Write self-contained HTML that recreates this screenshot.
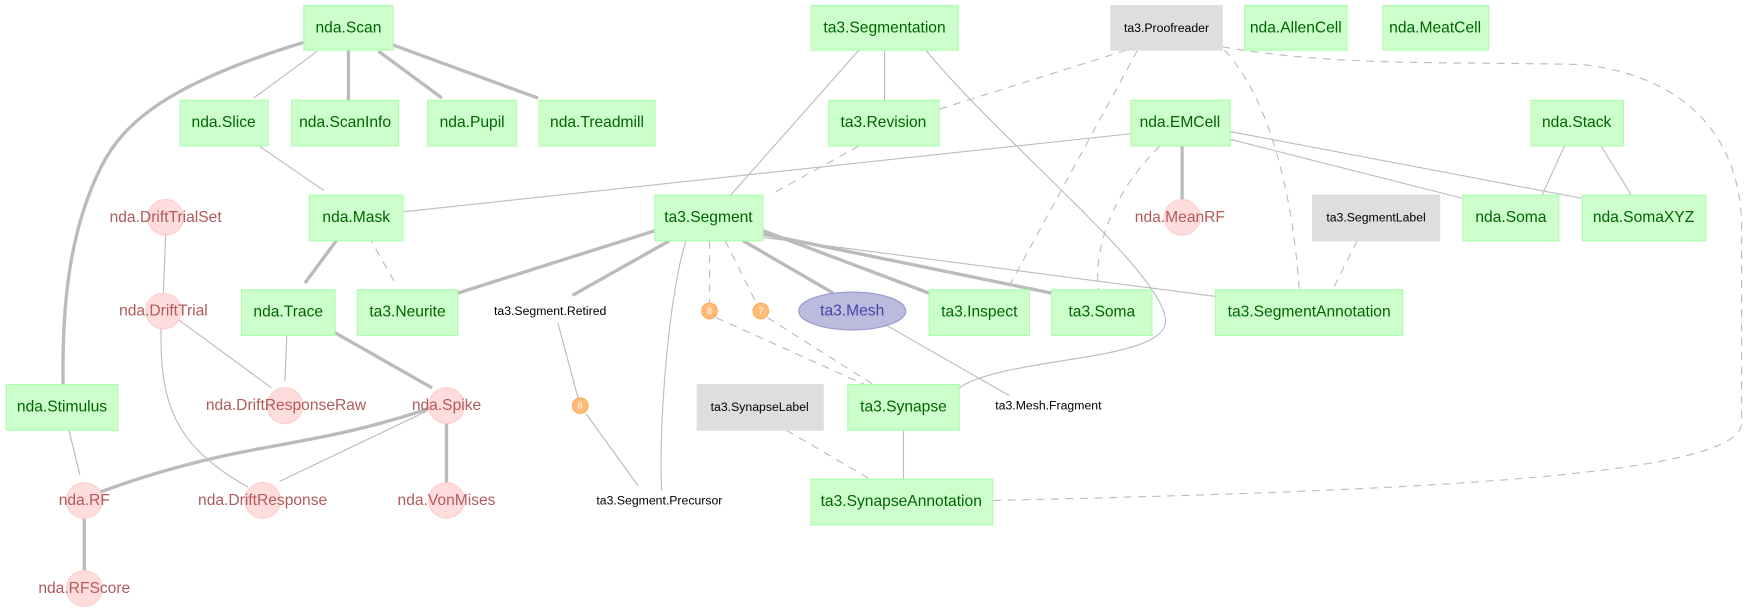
<!DOCTYPE html>
<html><head><meta charset="utf-8"><style>
html,body{margin:0;padding:0;background:#fff;}
svg{display:block}
.b{fill:#ccffcc;stroke:#aaffaa;stroke-width:1}
.g{fill:#dedede;stroke:#dedede}
.bt{font-family:"Liberation Sans",sans-serif;font-size:14px;fill:#006400;text-anchor:middle;dominant-baseline:central}
.gt{font-family:"Liberation Sans",sans-serif;font-size:11px;fill:#000;text-anchor:middle;dominant-baseline:central}
.c{fill:#ffdddd;stroke:#ffcccc}
.ct{font-family:"Liberation Sans",sans-serif;font-size:14px;fill:#b05a5a;text-anchor:middle;dominant-baseline:central}
.o{fill:#ffbb77;stroke:#ffaa55}
.ot{font-family:"Liberation Sans",sans-serif;font-size:8px;fill:#fff;text-anchor:middle;dominant-baseline:central}
.t1{stroke:#bbb;stroke-width:1;fill:none}
.t3{stroke:#bbb;stroke-width:3;fill:none}
.d{stroke:#bbb;stroke-width:1;fill:none;stroke-dasharray:7,6}
</style></head><body>
<svg width="1749" height="613" viewBox="0 0 1568 550" xmlns="http://www.w3.org/2000/svg">
<!-- edges -->
<path class="t3" d="M272,38 C150,75 110,110 90,150 C60,210 55,280 56,345"/>
<path class="t1" d="M284,46 L227,88"/>
<path class="t3" d="M312,45 L312,90"/>
<path class="t3" d="M339,46 L396,88"/>
<path class="t3" d="M351,40 L482,88"/>
<path class="t1" d="M229,129 L290,171"/>
<path class="t3" d="M304,212 L273,254"/>
<path class="d" d="M330,212 L354,254"/>
<path class="t1" d="M1014,120 L361,190"/>
<path class="t3" d="M587,207 L410,263"/>
<path class="t3" d="M600,216 L513,265"/>
<path class="t1" d="M257,294 L255,342"/>
<path class="t3" d="M292,294 L387,348"/>
<path class="t1" d="M148,211 L146,263"/>
<path class="t1" d="M157,285 L243,348"/>
<path class="t1" d="M144,292 C142,360 155,400 222,437"/>
<path class="t1" d="M59,377 L71,426"/>
<path class="t3" d="M386,366 C330,385 290,392 230,403 C170,414 120,430 88,442"/>
<path class="t1" d="M382,369 L250,432"/>
<path class="t3" d="M400,380 L400,433"/>
<path class="t3" d="M75,465 L75,512"/>
<path class="t1" d="M500,290 L518,357"/>
<path class="t1" d="M525,371 L572,436"/>
<path class="t1" d="M615,216 C600,260 590,380 593,440"/>
<path class="d" d="M636,216 L636,272"/>
<path class="d" d="M650,216 L678,272"/>
<path class="d" d="M642,285 L775,345"/>
<path class="d" d="M688,285 L783,345"/>
<path class="t3" d="M666,216 L747,263"/>
<path class="t3" d="M684,207 L833,263"/>
<path class="t3" d="M684,210 L943,263"/>
<path class="t1" d="M684,213 L1090,266"/>
<path class="t1" d="M770,45 L655,175"/>
<path class="t1" d="M793,45 L793,90"/>
<path class="t1" d="M830,45 C900,130 1050,250 1045,290 C1040,325 900,320 860,348"/>
<path class="d" d="M770,131 L690,175"/>
<path class="d" d="M1010,45 L842,98"/>
<path class="d" d="M1020,45 L903,260"/>
<path class="d" d="M1040,131 C1000,170 980,220 985,260"/>
<path class="d" d="M1098,45 C1140,90 1160,180 1165,260"/>
<path class="d" d="M1096,42 C1200,60 1300,55 1420,58 C1520,70 1560,130 1562,200 L1562,380 C1560,425 1300,440 890,449"/>
<path class="t3" d="M1060,131 L1060,179"/>
<path class="t1" d="M1103,125 L1312,178"/>
<path class="t1" d="M1103,118 L1419,178"/>
<path class="t1" d="M1403,131 L1383,175"/>
<path class="t1" d="M1436,131 L1463,175"/>
<path class="d" d="M1217,216 L1195,260"/>
<path class="t1" d="M795,292 L905,355"/>
<path class="d" d="M705,386 L780,430"/>
<path class="t1" d="M810,386 L810,430"/>

<!-- boxes -->
<g>
<rect class="b" x="272" y="5" width="80" height="40"/><text class="bt" x="312" y="25">nda.Scan</text>
<rect class="b" x="727" y="5" width="132" height="40"/><text class="bt" x="793" y="25">ta3.Segmentation</text>
<rect class="g" x="996" y="5" width="100" height="40"/><text class="gt" x="1046" y="25">ta3.Proofreader</text>
<rect class="b" x="1116" y="5" width="92" height="40"/><text class="bt" x="1162" y="25">nda.AllenCell</text>
<rect class="b" x="1240" y="5" width="95" height="40"/><text class="bt" x="1287" y="25">nda.MeatCell</text>
<rect class="b" x="161" y="90" width="79" height="41"/><text class="bt" x="200" y="110">nda.Slice</text>
<rect class="b" x="261" y="90" width="96" height="41"/><text class="bt" x="309" y="110">nda.ScanInfo</text>
<rect class="b" x="383" y="90" width="80" height="41"/><text class="bt" x="423" y="110">nda.Pupil</text>
<rect class="b" x="483" y="90" width="104" height="41"/><text class="bt" x="535" y="110">nda.Treadmill</text>
<rect class="b" x="743" y="90" width="99" height="41"/><text class="bt" x="792" y="110">ta3.Revision</text>
<rect class="b" x="1014" y="90" width="89" height="41"/><text class="bt" x="1058" y="110">nda.EMCell</text>
<rect class="b" x="1373" y="90" width="83" height="41"/><text class="bt" x="1414" y="110">nda.Stack</text>
<rect class="b" x="277" y="175" width="84" height="41"/><text class="bt" x="319" y="195">nda.Mask</text>
<rect class="b" x="587" y="175" width="97" height="41"/><text class="bt" x="635" y="195">ta3.Segment</text>
<rect class="g" x="1177" y="175" width="114" height="41"/><text class="gt" x="1234" y="195">ta3.SegmentLabel</text>
<rect class="b" x="1312" y="175" width="86" height="41"/><text class="bt" x="1355" y="195">nda.Soma</text>
<rect class="b" x="1419" y="175" width="111" height="41"/><text class="bt" x="1474" y="195">nda.SomaXYZ</text>
<rect class="b" x="216" y="260" width="84" height="41"/><text class="bt" x="258" y="280">nda.Trace</text>
<rect class="b" x="320" y="260" width="90" height="41"/><text class="bt" x="365" y="280">ta3.Neurite</text>
<rect class="b" x="833" y="260" width="90" height="41"/><text class="bt" x="878" y="280">ta3.Inspect</text>
<rect class="b" x="943" y="260" width="90" height="41"/><text class="bt" x="988" y="280">ta3.Soma</text>
<rect class="b" x="1090" y="260" width="168" height="41"/><text class="bt" x="1174" y="280">ta3.SegmentAnnotation</text>
<rect class="b" x="5" y="345" width="100" height="41"/><text class="bt" x="55" y="365">nda.Stimulus</text>
<rect class="g" x="625" y="345" width="113" height="41"/><text class="gt" x="681" y="365">ta3.SynapseLabel</text>
<rect class="b" x="760" y="345" width="100" height="41"/><text class="bt" x="810" y="365">ta3.Synapse</text>
<rect class="b" x="727" y="430" width="163" height="41"/><text class="bt" x="808" y="450">ta3.SynapseAnnotation</text>
</g>
<!-- circles -->
<g>
<circle class="c" cx="148" cy="195" r="16"/><text class="ct" x="148" y="195">nda.DriftTrialSet</text>
<circle class="c" cx="146" cy="279" r="16"/><text class="ct" x="146" y="279">nda.DriftTrial</text>
<circle class="c" cx="255" cy="364" r="16"/><text class="ct" x="256" y="364">nda.DriftResponseRaw</text>
<circle class="c" cx="400" cy="364" r="16"/><text class="ct" x="400" y="364">nda.Spike</text>
<circle class="c" cx="75" cy="449" r="16"/><text class="ct" x="75" y="449">nda.RF</text>
<circle class="c" cx="235" cy="449" r="16"/><text class="ct" x="235" y="449">nda.DriftResponse</text>
<circle class="c" cx="400" cy="449" r="16"/><text class="ct" x="400" y="449">nda.VonMises</text>
<circle class="c" cx="75" cy="528" r="16"/><text class="ct" x="75" y="528">nda.RFScore</text>
<circle class="c" cx="1060" cy="195" r="16"/><text class="ct" x="1058" y="195">nda.MeanRF</text>
<ellipse cx="764" cy="279" rx="48" ry="17" fill="#bbbbdd" stroke="#9999cc"/>
<text class="bt" x="764" y="279" style="fill:#4444aa">ta3.Mesh</text>
<circle class="o" cx="636" cy="279" r="7"/><text class="ot" x="636" y="279">8</text>
<circle class="o" cx="682" cy="279" r="7"/><text class="ot" x="682" y="279">7</text>
<circle class="o" cx="520" cy="364" r="7"/><text class="ot" x="520" y="364">6</text>
<text class="gt" x="493" y="279">ta3.Segment.Retired</text>
<text class="gt" x="940" y="364">ta3.Mesh.Fragment</text>
<text class="gt" x="591" y="449">ta3.Segment.Precursor</text>
</g>
</svg>
</body></html>
